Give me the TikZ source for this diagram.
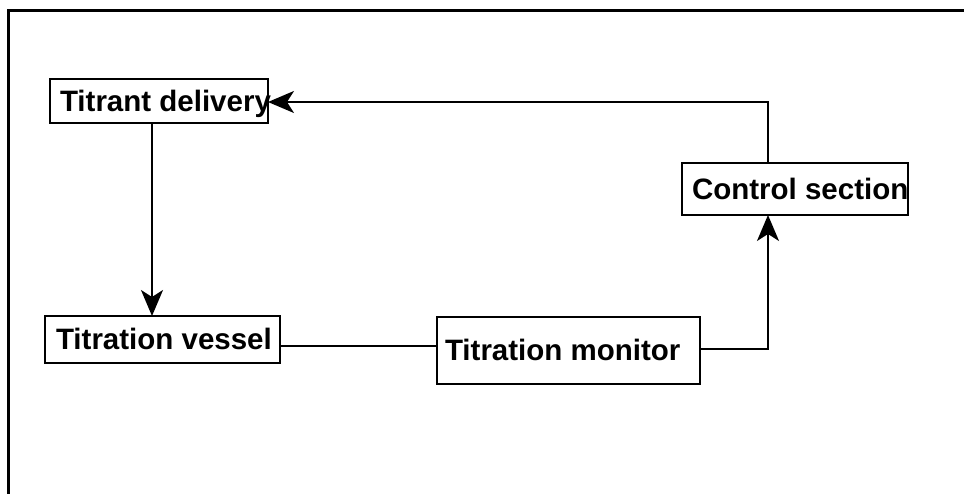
\documentclass[tikz,border=0pt]{standalone}
\usepackage{fontspec}
\setmainfont{Liberation Sans}
\usetikzlibrary{arrows.meta}
\newcommand{\boxlabel}[2]{\makebox[#1][l]{#2}}
\begin{document}
\begin{tikzpicture}[x=1pt,y=-1pt,
  blk/.style={draw, line width=1.3pt, anchor=north west, inner ysep=0pt, outer sep=0pt,
    font=\fontsize{29.5}{32}\selectfont\bfseries, text height=20.5pt, text depth=0pt},
  conn/.style={line width=1.8pt},
  arr/.style={conn, -{Stealth[length=26pt,width=22pt,inset=7pt]}},
  frame/.style={line width=3pt}]
\useasboundingbox (0,0) rectangle (964,494);
\draw[frame] (8.5,494) -- (8.5,11) -- (964,11);
% boxes
\node[blk, minimum width=218pt, minimum height=44pt, inner xsep=10pt] (del) at (50,79) {\boxlabel{198pt}{Titrant delivery}};
\node[blk, minimum width=235pt, minimum height=47pt, inner xsep=11pt] (ves) at (45,316) {\boxlabel{213pt}{Titration vessel}};
\node[blk, minimum width=263pt, minimum height=67pt, inner xsep=8pt] (mon) at (437,317) {\boxlabel{247pt}{Titration monitor}};
\node[blk, minimum width=226pt, minimum height=52pt, inner xsep=10pt] (ctl) at (682,163) {\boxlabel{206pt}{Control section}};
% guide coordinates
\coordinate (xa) at (152,0);
\coordinate (ya) at (0,346);
\coordinate (yb) at (0,349);
\coordinate (xb) at (768,0);
\coordinate (yc) at (0,102);
% connectors
\draw[arr] (del.south -| xa) -- (ves.north -| xa);
\draw[conn] (ves.east |- ya) -- (mon.west |- ya);
\draw[arr] (mon.east |- yb) -| (ctl.south -| xb);
\draw[arr] (ctl.north -| xb) |- (del.east |- yc);
\end{tikzpicture}
\end{document}
